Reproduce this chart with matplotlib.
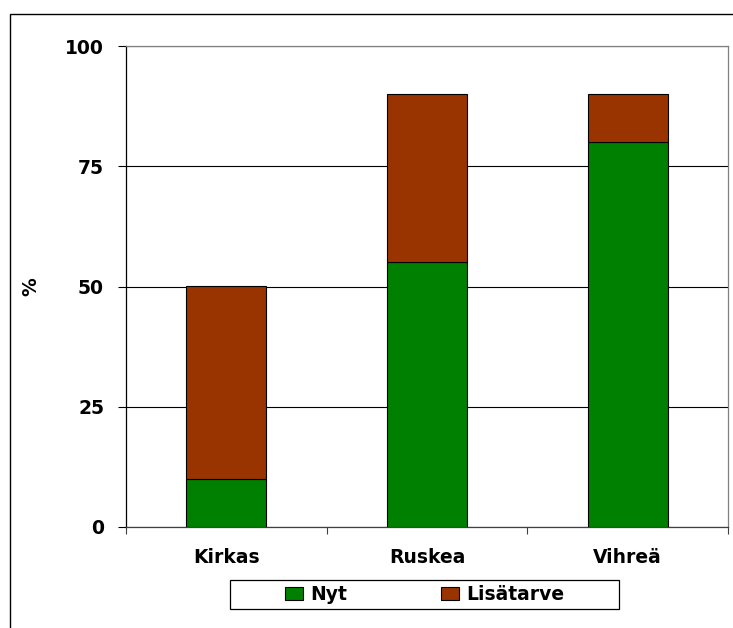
import matplotlib
matplotlib.use("Agg")
from matplotlib import pyplot as plt
from matplotlib.patches import Rectangle

# Chart data
categories = ["Kirkas", "Ruskea", "Vihreä"]
nyt = [10, 55, 80]
lisatarve = [40, 35, 10]
series_labels = ["Nyt", "Lisätarve"]
y_ticks = [0, 25, 50, 75, 100]

green = "#008000"
brown = "#993300"
font_size = 13.5

plt.rcParams['font.family'] = ['DejaVu Sans']
plt.rcParams['font.weight'] = 'bold'

W, H = 733, 628
fig = plt.figure(figsize=(W / 100, H / 100), dpi=100)
fig.patch.set_facecolor("white")

# Outer border round the whole chart
fig.patches.append(Rectangle((10 / W, -0.05), 1.0, 1 - 14 / H + 0.05,
                             transform=fig.transFigure, fill=False,
                             edgecolor="black", linewidth=1.0))

# Plot area in pixel units
ax = fig.add_axes([126 / W, 101 / H, 602 / W, 481 / H])

x = list(range(len(categories)))
bars_nyt = ax.bar(x, nyt, width=0.4, color=green, edgecolor="black",
                  linewidth=0.8, zorder=3)
bars_lisa = ax.bar(x, lisatarve, width=0.4, bottom=nyt, color=brown,
                   edgecolor="black", linewidth=0.8, zorder=3)

ax.set_xlim(-0.5, len(categories) - 0.5)
ax.set_ylim(0, 100)

# Horizontal grid lines
ax.set_yticks(y_ticks)
ax.yaxis.grid(True, color="black", linewidth=0.8, zorder=0)
ax.set_axisbelow(True)

ax.tick_params(axis="y", direction="out", length=5.8, width=0.8,
               pad=10, labelsize=font_size, colors="black")
ax.set_xticks(x)
ax.set_xticklabels(categories)
ax.tick_params(axis="x", which="major", length=0, pad=15, labelsize=font_size)
# Small marks at category boundaries
ax.set_xticks([i - 0.5 for i in range(len(categories) + 1)], minor=True)
ax.tick_params(axis="x", which="minor", direction="out", length=5,
               width=0.8, color="#404040")

for lbl in ax.get_xticklabels() + ax.get_yticklabels():
    lbl.set_fontweight("bold")

ax.spines["left"].set_color("black")
ax.spines["bottom"].set_color("#404040")
ax.spines["top"].set_color("#808080")
ax.spines["right"].set_color("#808080")
for s in ax.spines.values():
    s.set_linewidth(0.9)

ax.set_ylabel("%", fontsize=font_size, fontweight="bold")
ax.yaxis.set_label_coords(-86 / 602, 0.5)

# Legend box below the plot
fig.patches.append(Rectangle((230 / W, 1 - 609 / H), 389 / W, 29 / H,
                             transform=fig.transFigure, fill=False,
                             edgecolor="black", linewidth=0.9))
fig.legend([bars_nyt, bars_lisa], series_labels, ncol=2, frameon=False,
           loc="center", bbox_to_anchor=(424.5 / W, 1 - 594.5 / H),
           prop={"size": font_size, "weight": "bold"},
           handlelength=0.95, handleheight=0.72, handletextpad=0.4,
           columnspacing=5.0, borderpad=0.0)

fig.savefig("out.png", dpi=100)
